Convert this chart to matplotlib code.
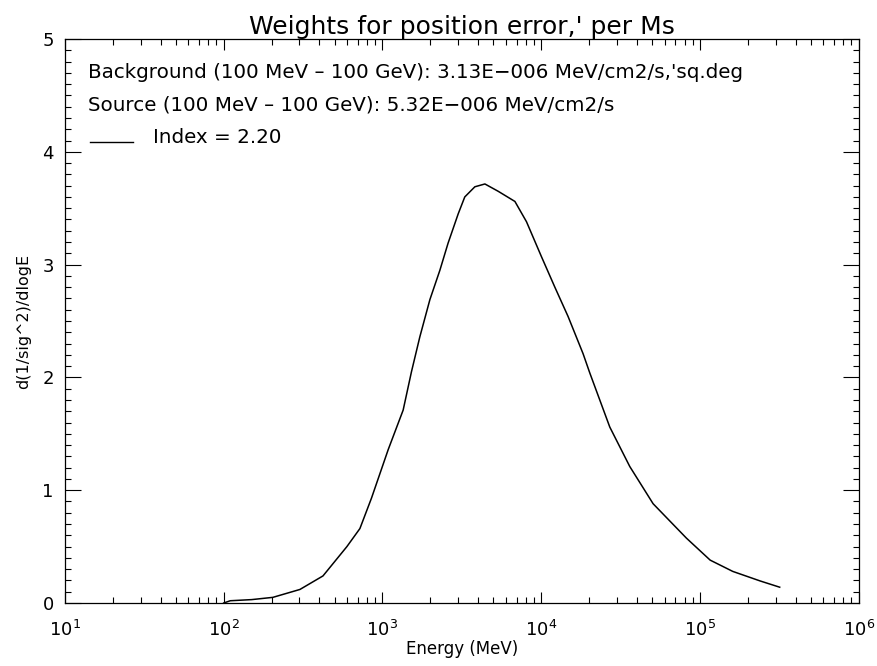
import numpy as np
import matplotlib
matplotlib.use("Agg")
import matplotlib.pyplot as plt
from matplotlib.ticker import LogLocator, MultipleLocator, NullFormatter

plt.rcParams['font.family'] = ['DejaVu Sans']

# curve (MeV, d(1/sig^2)/dlogE)
energy = [100, 110, 150, 204, 302, 422, 597, 721, 853, 1087, 1350, 1523, 1720,
          1990, 2300, 2590, 3000, 3300, 3820, 4420, 5360, 6830, 8080, 10040,
          12190, 14770, 18360, 20230, 27040, 36140, 50700, 82200, 116000,
          161000, 240000, 318000]
weight = [0.0, 0.02, 0.03, 0.05, 0.12, 0.24, 0.50, 0.66, 0.93, 1.36, 1.71, 2.05, 2.36,
          2.69, 2.95, 3.19, 3.45, 3.60, 3.69, 3.715, 3.65, 3.56, 3.38, 3.07,
          2.80, 2.54, 2.21, 2.04, 1.56, 1.21, 0.88, 0.575, 0.38,
          0.28, 0.195, 0.14]

title = "Weights for position error,' per Ms"
info_lines = ["Background (100 MeV \u2013 100 GeV): 3.13E\u2212006 MeV/cm2/s,'sq.deg",
              "Source (100 MeV \u2013 100 GeV): 5.32E\u2212006 MeV/cm2/s"]
index_label = "Index = 2.20"

fig = plt.figure(figsize=(8.78, 6.66), dpi=100)
ax = fig.add_axes([0.074, 0.0946, 0.904, 0.8468])

ax.plot(energy, weight, color='black', lw=1.1)

ax.set_xscale('log')
ax.set_xlim(10, 1e6)
ax.set_ylim(0, 5)
ax.xaxis.set_major_locator(LogLocator(base=10, numticks=10))
ax.xaxis.set_minor_locator(LogLocator(base=10, subs=np.arange(2, 10), numticks=20))
ax.xaxis.set_minor_formatter(NullFormatter())
ax.yaxis.set_major_locator(MultipleLocator(1))
ax.yaxis.set_minor_locator(MultipleLocator(0.1))

ax.tick_params(which='both', direction='in', top=True, right=True, labelsize=13, width=0.8)
ax.tick_params(axis='x', which='major', length=8, pad=12)
ax.tick_params(axis='x', which='minor', length=4)
ax.tick_params(axis='y', which='major', length=11.5, pad=8)
ax.tick_params(axis='y', which='minor', length=4)
for s in ax.spines.values():
    s.set_linewidth(0.9)

ax.set_xlabel("Energy (MeV)", fontsize=12, labelpad=0)
ax.set_ylabel("d(1/sig^2)/dlogE", fontsize=11.5, labelpad=8)
ax.set_title(title, fontsize=18, pad=2)

ax.text(0.029, 0.941, info_lines[0], transform=ax.transAxes, fontsize=14.3, va='center')
ax.text(0.029, 0.883, info_lines[1], transform=ax.transAxes, fontsize=14.3, va='center')
ax.plot([0.031, 0.086], [0.818, 0.818], transform=ax.transAxes, color='black', lw=1)
ax.text(0.111, 0.826, index_label, transform=ax.transAxes, fontsize=14.3, va='center')

fig.savefig("out.png", dpi=100)
